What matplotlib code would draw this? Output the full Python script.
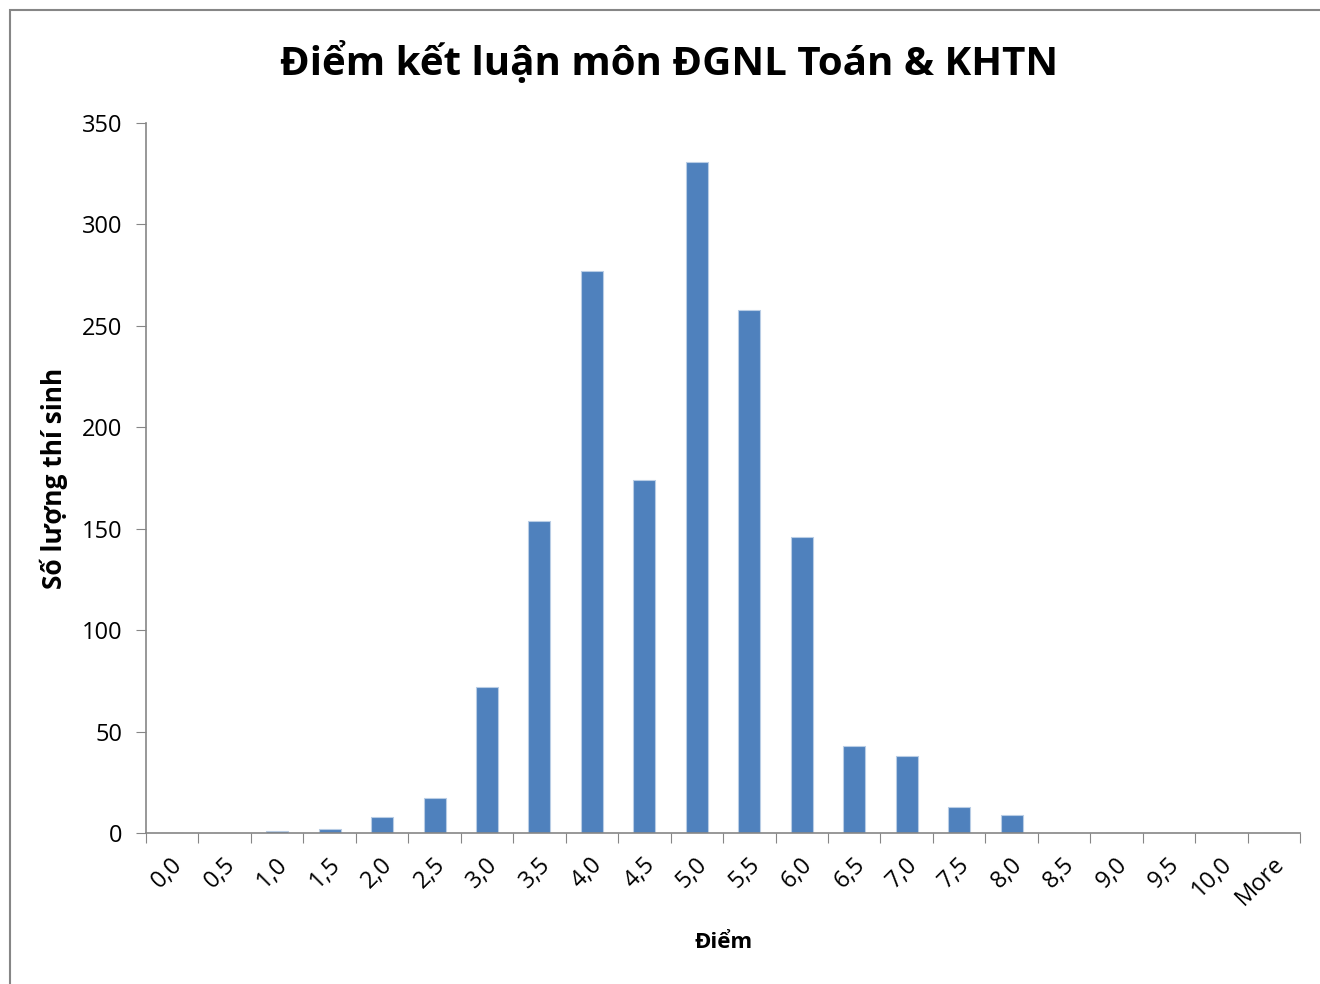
import numpy as np
import matplotlib
matplotlib.use("Agg")
import matplotlib.pyplot as plt
from matplotlib.patches import Rectangle

# histogram bins and counts
categories = ["0,0", "0,5", "1,0", "1,5", "2,0", "2,5", "3,0", "3,5", "4,0", "4,5", "5,0",
              "5,5", "6,0", "6,5", "7,0", "7,5", "8,0", "8,5", "9,0", "9,5", "10,0", "More"]
counts = [0, 0, 1, 2, 8, 17, 72, 154, 277, 174, 331, 258, 146, 43, 38, 13, 9, 0, 0, 0, 0, 0]
y_ticks = [0, 50, 100, 150, 200, 250, 300, 350]

plt.rcParams['font.family'] = ['Open Sans', 'DejaVu Sans']

fig = plt.figure(figsize=(13.2, 9.84), dpi=100)
ax = fig.add_axes([0.1106, 0.1535, 0.8744, 0.7215])

x = np.arange(len(categories))
ax.bar(x, counts, width=0.42, color="#4f81bd", edgecolor="#b9cde5", linewidth=0.8)

ax.set_xlim(-0.5, len(categories) - 0.5)
ax.set_ylim(0, 350)
ax.set_yticks(y_ticks)
ax.tick_params(axis="y", labelsize=17, length=7, color="#868686", direction="out", pad=10)

# category boundaries carry the ticks, labels sit at the bar centres
ax.set_xticks(np.arange(len(categories) + 1) - 0.5)
ax.set_xticklabels([])
ax.tick_params(axis="x", length=7, color="#868686", direction="out")
for xi, lab in zip(x, categories):
    ax.annotate(lab, xy=(xi, 0), xycoords=("data", "axes fraction"),
                xytext=(-1, -14), textcoords="offset points",
                rotation=45, ha="right", va="top", fontsize=17,
                rotation_mode="anchor")

for side in ["top", "right"]:
    ax.spines[side].set_visible(False)
for side in ["left", "bottom"]:
    ax.spines[side].set_color("#868686")
    ax.spines[side].set_linewidth(1.2)

ax.set_ylabel("Số lượng thí sinh", fontsize=19, fontweight="bold")
ax.yaxis.set_label_coords(-0.068, 0.5)
ax.set_xlabel("Điểm", fontsize=16, fontweight="bold")
ax.xaxis.set_label_coords(0.5, -0.14)

fig.text(0.507, 0.936, "Điểm kết luận môn ĐGNL Toán & KHTN", ha="center", va="center",
         fontsize=29, fontweight="bold")

# chart-area border
fig.patches.append(Rectangle((10 / 1320, -0.05), 1.2, 1 - 10 / 984 + 0.05,
                             transform=fig.transFigure, fill=False,
                             edgecolor="#868686", linewidth=1.5))

fig.savefig("out.png", dpi=100)
